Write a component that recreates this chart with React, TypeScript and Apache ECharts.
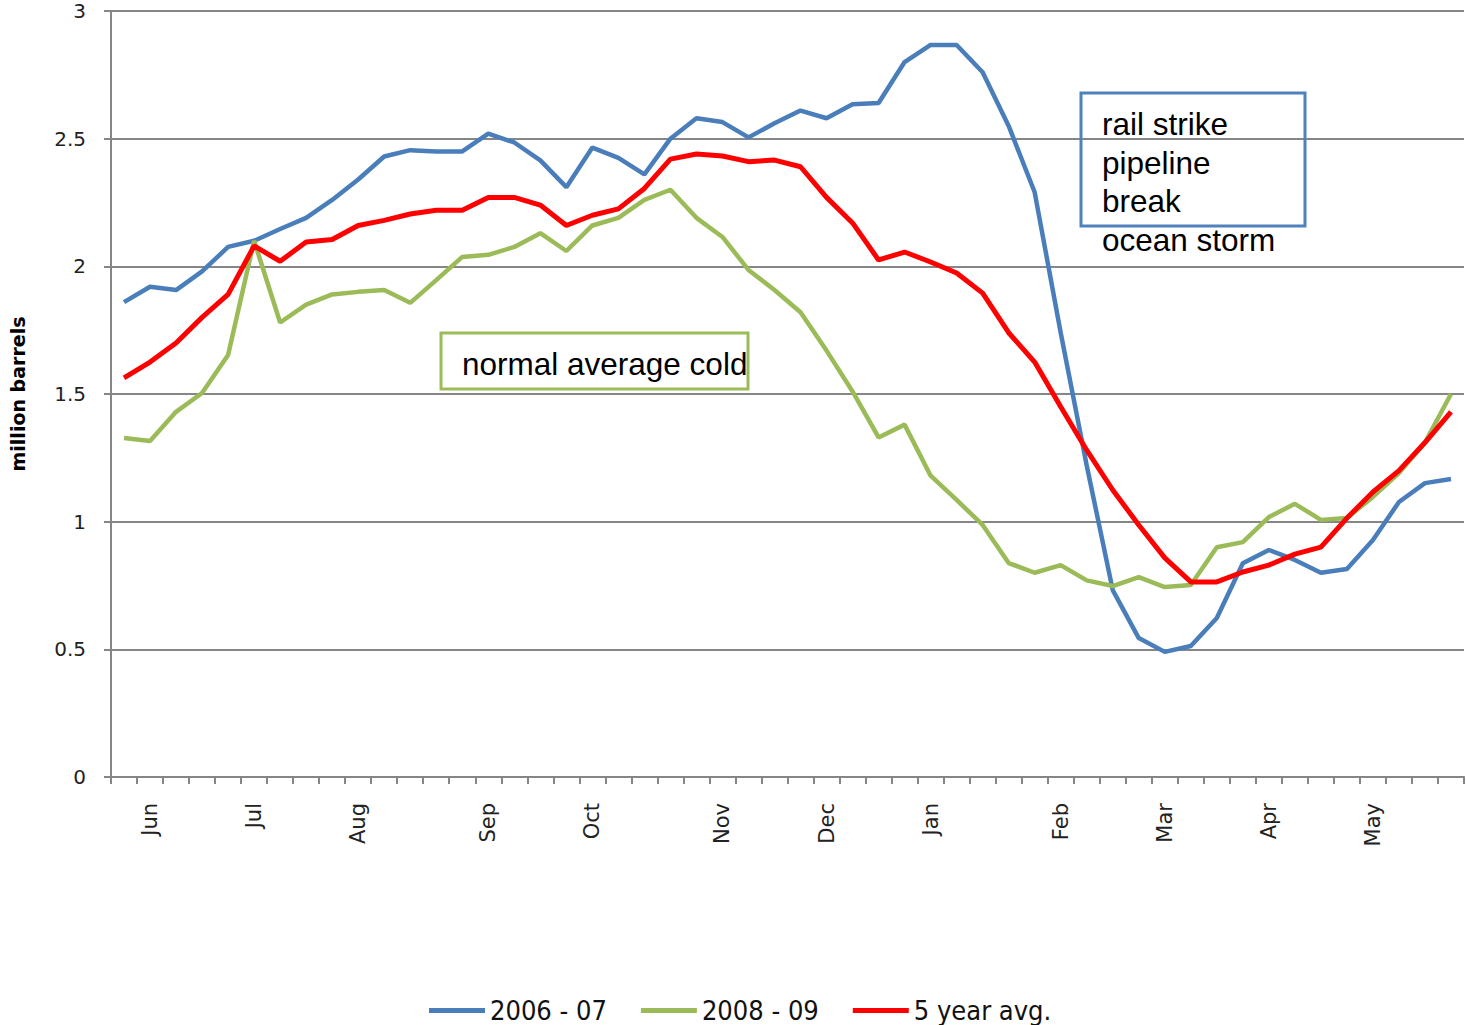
import React, { useEffect, useRef } from "react";
import * as echarts from "echarts";

const weeks: string[] = Array.from({ length: 52 }, (_, i) => String(i + 1));
const monthTickIndex = [1, 5, 9, 14, 18, 23, 27, 31, 36, 40, 44, 48];
const monthNames = ["Jun", "Jul", "Aug", "Sep", "Oct", "Nov", "Dec", "Jan", "Feb", "Mar", "Apr", "May"];

const series0607 = [
  1.86, 1.92, 1.907, 1.98, 2.076, 2.1, 2.146, 2.19, 2.26, 2.34,
  2.43, 2.455, 2.45, 2.45, 2.52, 2.485, 2.415, 2.31, 2.465, 2.425,
  2.36, 2.5, 2.58, 2.565, 2.505, 2.56, 2.61, 2.58, 2.635, 2.64,
  2.8, 2.867, 2.867, 2.76, 2.55, 2.29, 1.74, 1.22, 0.732, 0.544,
  0.49, 0.513, 0.623, 0.837, 0.889, 0.85, 0.8, 0.815, 0.928, 1.077,
  1.151, 1.167,
];
const series0809 = [
  1.328, 1.316, 1.43, 1.504, 1.653, 2.1, 1.78, 1.85, 1.89, 1.9,
  1.907, 1.857, 1.946, 2.037, 2.045, 2.076, 2.13, 2.06, 2.16, 2.19,
  2.26, 2.3, 2.19, 2.115, 1.986, 1.907, 1.82, 1.67, 1.51, 1.33,
  1.38, 1.18, 1.085, 0.987, 0.838, 0.8, 0.83, 0.77, 0.748, 0.783,
  0.744, 0.752, 0.9, 0.92, 1.018, 1.07, 1.007, 1.014, 1.097, 1.19,
  1.31, 1.5,
];
const series5yr = [
  1.563, 1.625, 1.7, 1.8, 1.89, 2.08, 2.02, 2.095, 2.105, 2.16,
  2.18, 2.205, 2.22, 2.22, 2.27, 2.27, 2.24, 2.16, 2.2, 2.225,
  2.305, 2.42, 2.44, 2.432, 2.41, 2.416, 2.39, 2.27, 2.17, 2.025,
  2.056, 2.017, 1.974, 1.895, 1.74, 1.625, 1.45, 1.28, 1.124, 0.987,
  0.858, 0.764, 0.764, 0.803, 0.83, 0.873, 0.9, 1.014, 1.116, 1.2,
  1.31, 1.43,
];
const seriesNames = ["2006 - 07", "2008 - 09", "5 year avg."];
const yTicks = [0, 0.5, 1, 1.5, 2, 2.5, 3];
const noteCold = "normal average cold";
const noteEvents = ["rail strike", "pipeline", "break", "ocean storm"];

const weekLabels: string[] = weeks.map((_, i) => {
  const k = monthTickIndex.indexOf(i);
  return k >= 0 ? monthNames[k] : "";
});

export default function App() {
  const ref = useRef<HTMLDivElement>(null);
  useEffect(() => {
    if (!ref.current) return;
    const chart = echarts.init(ref.current, null, { renderer: "svg" });
    const gray = "#868686";
    const axisFont = "'DejaVu Sans', sans-serif";
    chart.setOption({
      animation: false,
      backgroundColor: "#ffffff",
      grid: { left: 109, right: 2, top: 11, bottom: 248, containLabel: false },
      xAxis: {
        type: "category",
        data: weeks,
        boundaryGap: true,
        axisLine: { show: true, lineStyle: { color: gray, width: 2 } },
        axisTick: { show: true, interval: 0, length: 7, lineStyle: { color: gray, width: 2 } },
        axisLabel: {
          interval: 0,
          rotate: 90,
          margin: 26,
          fontSize: 21,
          fontFamily: axisFont,
          color: "#222",
          formatter: (_v: string, idx: number) => weekLabels[idx],
        },
        splitLine: { show: false },
      },
      yAxis: {
        type: "value",
        min: yTicks[0],
        max: yTicks[yTicks.length - 1],
        interval: 0.5,
        name: "million barrels",
        nameLocation: "middle",
        nameGap: 84,
        nameRotate: 90,
        nameTextStyle: { fontSize: 19, fontWeight: "bold", fontFamily: axisFont, color: "#000" },
        axisLine: { show: true, lineStyle: { color: gray, width: 2 } },
        axisTick: { show: true, length: 7, lineStyle: { color: gray, width: 2 } },
        axisLabel: { margin: 25, fontSize: 20, fontFamily: axisFont, color: "#222" },
        splitLine: { show: true, lineStyle: { color: gray, width: 2 } },
      },
      legend: {
        left: 424,
        top: 992,
        icon: "rect",
        itemWidth: 56,
        itemHeight: 5,
        itemGap: 34,
        textStyle: { fontSize: 27, fontFamily: "'DejaVu Sans Condensed', 'DejaVu Sans', sans-serif", color: "#111" },
        data: seriesNames,
      },
      series: [
        {
          name: seriesNames[0],
          type: "line",
          data: series0607,
          symbol: "none",
          lineStyle: { color: "#4A7EBB", width: 4.5 },
          itemStyle: { color: "#4A7EBB" },
        },
        {
          name: seriesNames[1],
          type: "line",
          data: series0809,
          symbol: "none",
          lineStyle: { color: "#9BBB59", width: 4.5 },
          itemStyle: { color: "#9BBB59" },
        },
        {
          name: seriesNames[2],
          type: "line",
          data: series5yr,
          symbol: "none",
          lineStyle: { color: "#FF0000", width: 5 },
          itemStyle: { color: "#FF0000" },
          z: 3,
        },
      ],
      graphic: [
        {
          type: "rect",
          shape: { x: 441, y: 333, width: 307, height: 56 },
          style: { fill: "rgba(0,0,0,0)", stroke: "#9BBB59", lineWidth: 3 },
          z: 10,
        },
        {
          type: "text",
          x: 462,
          y: 364,
          style: {
            text: noteCold,
            font: "31.5px 'Liberation Sans', Arial, sans-serif",
            fill: "#000",
            verticalAlign: "middle",
            align: "left",
          },
          z: 11,
        },
        {
          type: "rect",
          shape: { x: 1081, y: 93, width: 224, height: 133 },
          style: { fill: "rgba(0,0,0,0)", stroke: "#4F81BD", lineWidth: 3 },
          z: 10,
        },
        {
          type: "text",
          x: 1102,
          y: 105,
          style: {
            text: noteEvents.join("\n"),
            font: "31.5px 'Liberation Sans', Arial, sans-serif",
            lineHeight: 38.5,
            fill: "#000",
            verticalAlign: "top",
            align: "left",
          },
          z: 11,
        },
      ],
    });
    return () => chart.dispose();
  }, []);
  return (
    <div
      ref={ref}
      style={{ position: "fixed", left: 0, top: 0, width: 1466, height: 1025 }}
    />
  );
}
